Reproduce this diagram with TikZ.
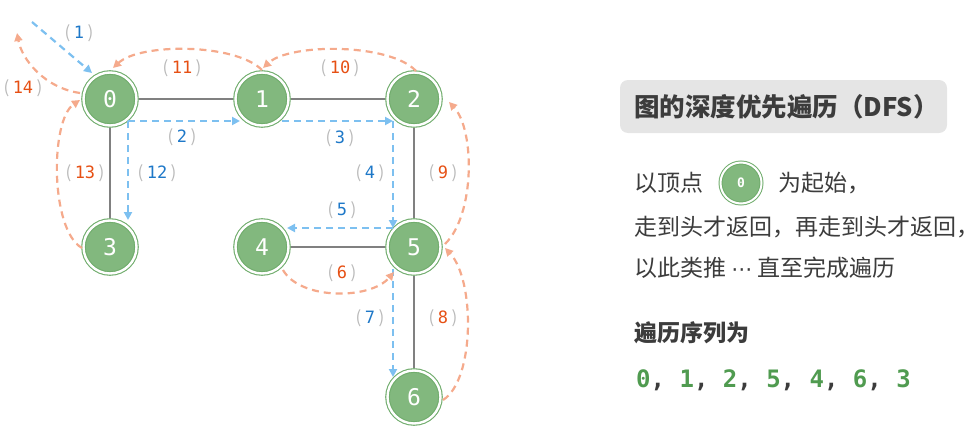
\documentclass[tikz,border=0pt]{standalone}
\usepackage{fontspec}
\newfontfamily\cjk{Noto Sans CJK SC}
\newfontfamily\mono{DejaVu Sans Mono}
\newfontfamily\dejavu{DejaVu Sans}
\usetikzlibrary{arrows.meta,calc}
\definecolor{nodefill}{RGB}{130,184,126}
\definecolor{ring}{RGB}{112,172,108}
\definecolor{edgegray}{RGB}{128,128,128}
\definecolor{bluearr}{RGB}{125,192,240}
\definecolor{orangearr}{RGB}{245,170,140}
\definecolor{bluetxt}{RGB}{30,120,200}
\definecolor{orangetxt}{RGB}{230,80,20}
\definecolor{paren}{RGB}{185,185,185}
\definecolor{textdark}{RGB}{60,60,60}
\definecolor{seqgreen}{RGB}{80,155,80}
\definecolor{boxgray}{RGB}{229,229,229}
\newcommand\lbl[2]{{\cjk\color{paren}(}\hspace{3.5pt}{\mono\color{#1}#2}\hspace{3.5pt}{\cjk\color{paren})}}
\begin{document}
\begin{tikzpicture}[x=1pt,y=-1pt,
  vert/.style={circle, fill=nodefill, draw=ring, line width=1.1pt, double=white,
    double distance=2.4pt, minimum size=53pt, inner sep=0pt, outer sep=2.3pt,
    font=\mono\fontsize{23}{23}\selectfont, text=white},
  smallvert/.style={circle, fill=nodefill, draw=ring, line width=1pt, double=white,
    double distance=2pt, minimum size=41pt, inner sep=0pt,
    font=\mono\bfseries\fontsize{13}{13}\selectfont, text=white},
  edge/.style={draw=edgegray, line width=2.6pt},
  bluea/.style={draw=bluearr, line width=2.2pt, dash pattern=on 7pt off 5pt,
    -{Triangle[length=8pt,width=8pt]}},
  orangea/.style={draw=orangearr, line width=2.2pt, dash pattern=on 7pt off 5pt,
    -{Triangle[length=8pt,width=8pt]}},
  lab/.style={font=\fontsize{17}{17}\selectfont, inner sep=0pt},
  body/.style={anchor=west, inner sep=0pt, text=textdark, font=\cjk\fontsize{23}{23}\selectfont},
]
\useasboundingbox (0,0) rectangle (979,436);

% nodes
\node[vert] (n0) at (110,99) {0};
\node[vert] (n1) at (262,99) {1};
\node[vert] (n2) at (414,99) {2};
\node[vert] (n3) at (110,247) {3};
\node[vert] (n4) at (262,247) {4};
\node[vert] (n5) at (414,247) {5};
\node[vert] (n6) at (414,397) {6};

% edges
\draw[edge] (n0) -- (n1);
\draw[edge] (n1) -- (n2);
\draw[edge] (n0) -- (n3);
\draw[edge] (n2) -- (n5);
\draw[edge] (n4) -- (n5);
\draw[edge] (n5) -- (n6);

% blue (forward) arrows
\coordinate (s1) at (32,22);
\draw[bluea] (s1) -- ($(n0)+(-18,-26)$);
\draw[bluea] ($(n0)+(18,22)$) -- ($(n1)+(-22,22)$);
\draw[bluea] ($(n1)+(20,22)$) -- ($(n2)+(-21,22)$);
\draw[bluea] ($(n2)+(-21,22)$) -- ($(n5)+(-21,-19)$);
\draw[bluea] ($(n5)+(-21,-19)$) -- ($(n4)+(25,-19)$);
\draw[bluea] ($(n5)+(-21,22)$) -- ($(n6)+(-21,-20)$);
\draw[bluea] ($(n0)+(18,22)$) -- ($(n3)+(18,-27)$);

% orange (return) arrows
\coordinate (e14) at (17,33);
\draw[orangea] ($(n4)+(21,23)$) .. controls (300,300) and (370,300) .. ($(n5)+(-20,25)$);
\draw[orangea] ($(n6)+(29,3)$) .. controls (475,380) and (475,280) .. ($(n5)+(31,1)$);
\draw[orangea] ($(n5)+(31,-3)$) .. controls (475,215) and (475,130) .. ($(n2)+(35,3)$);
\draw[orangea] ($(n2)+(2,-28)$) .. controls (390,43) and (290,43) .. ($(n1)+(1,-31)$);
\draw[orangea] ($(n1)+(0,-29)$) .. controls (235,43) and (140,43) .. ($(n0)+(3,-31)$);
\draw[orangea] ($(n3)+(-28,1)$) .. controls (50,230) and (50,120) .. ($(n0)+(-30,1)$);
\draw[orangea] ($(n0)+(-30,-6)$) .. controls (45,88) and (22,60) .. (e14);

% step labels
\node[lab] (l1) at (79,33) {\lbl{bluetxt}{1}};
\node[lab] (l2) at (182,137) {\lbl{bluetxt}{2}};
\node[lab] (l3) at (340,138) {\lbl{bluetxt}{3}};
\node[lab] (l4) at (370,173) {\lbl{bluetxt}{4}};
\node[lab] (l5) at (342,210) {\lbl{bluetxt}{5}};
\node[lab] (l6) at (342,273) {\lbl{orangetxt}{6}};
\node[lab] (l7) at (370,318) {\lbl{bluetxt}{7}};
\node[lab] (l8) at (443,318) {\lbl{orangetxt}{8}};
\node[lab] (l9) at (443,173) {\lbl{orangetxt}{9}};
\node[lab] (l10) at (340,68) {\lbl{orangetxt}{10}};
\node[lab] (l11) at (182,68) {\lbl{orangetxt}{11}};
\node[lab] (l12) at (157,173) {\lbl{bluetxt}{12}};
\node[lab] (l13) at (85,173) {\lbl{orangetxt}{13}};
\node[lab] (l14) at (23,88) {\lbl{orangetxt}{14}};

% right panel
\fill[boxgray, rounded corners=8pt] (620,80) rectangle (947,133);
\node[body, font=\cjk\bfseries\fontsize{25.5}{25.5}\selectfont] (title) at (634,107) {图的深度优先遍历（DFS）};
\node[body] (t1a) at (634,183) {以顶点};
\node[smallvert] (sv) at (741,183) {0};
\node[body] (t1b) at (778,183) {为起始，};
\node[body] (t2) at (634,227) {走到头才返回，再走到头才返回，};
\node[body] (t3) at (634,268) {以此类推 {\dejavu\fontsize{21}{21}\selectfont ⋯} 直至完成遍历};
\node[body, font=\cjk\bfseries\fontsize{23}{23}\selectfont] (t4) at (634,333) {遍历序列为};
\node[body, font=\mono\bfseries\fontsize{24}{24}\selectfont] (seq) at (636,380)
  {{\color{seqgreen}0}, {\color{seqgreen}1}, {\color{seqgreen}2}, {\color{seqgreen}5}, {\color{seqgreen}4}, {\color{seqgreen}6}, {\color{seqgreen}3}};
\end{tikzpicture}
\end{document}
